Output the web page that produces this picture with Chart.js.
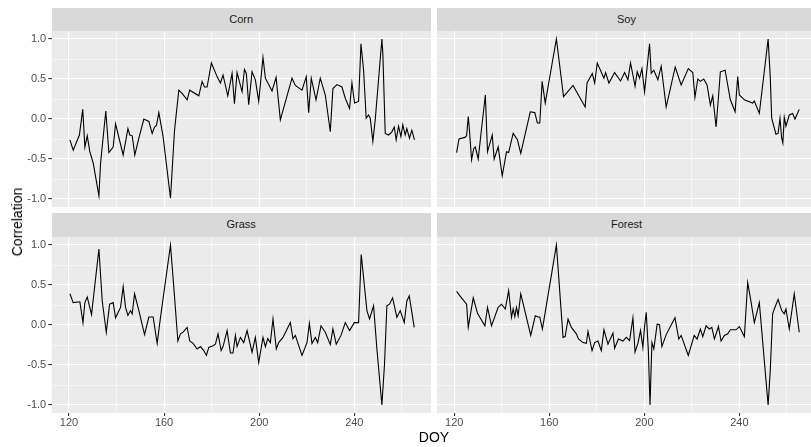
<!DOCTYPE html>
<html>
<head>
<meta charset="utf-8">
<script src="https://cdn.jsdelivr.net/npm/chart.js@4"></script>
<style>
  body { margin: 0; width: 811px; height: 447px; overflow: hidden; background: #fff; position: relative;
         font-family: "Liberation Sans", Arial, sans-serif; }
  canvas { position: absolute; }
  .strip { position: absolute; background: #d9d9d9; color: #1a1a1a; font-size: 11px; text-align: center; }
  .title { position: absolute; color: #000; font-size: 14px; white-space: nowrap; }
</style>
</head>
<body>
<div id="root"></div>
<script>
// axis breaks
const xMajor = [120, 160, 200, 240];
const xMinor = [140, 180, 220, 260];
const yMajor = [-1, -0.5, 0, 0.5, 1];
const yMinor = [-0.75, -0.25, 0.25, 0.75];
const panelNames = ["Corn", "Soy", "Grass", "Forest"];

// series
const cornDoy = [120.4,121.8,124.4,125.8,126.7,127.7,128.8,130.2,132.6,133.3,135.5,136.8,138.6,139.6,142.8,144.8,145.6,146.6,147.7,149.4,151.5,153.6,155.0,156.0,156.8,157.8,159.6,162.7,164.4,166.2,167.6,169.7,170.8,174.6,176.0,177.0,178.1,179.9,182.3,183.7,184.8,186.8,188.6,189.6,190.7,192.8,193.8,194.6,195.6,197.0,198.4,199.8,201.6,202.6,205.4,207.1,208.9,213.8,215.2,218.0,219.8,220.8,221.9,223.9,225.7,227.8,229.9,231.0,232.7,234.8,236.2,238.0,239.0,240.1,241.8,242.8,243.9,245.0,246.0,246.7,247.8,248.8,251.6,252.0,253.0,254.4,255.8,256.8,257.6,258.6,259.6,260.4,261.4,262.1,263.2,264.2,265.3];
const cornCor = [-0.26,-0.39,-0.20,0.12,-0.35,-0.21,-0.41,-0.55,-0.96,-0.55,0.10,-0.42,-0.35,-0.06,-0.45,-0.12,-0.20,-0.21,-0.45,-0.24,0.00,-0.03,-0.18,-0.10,-0.08,0.08,-0.22,-0.99,-0.14,0.36,0.32,0.24,0.36,0.29,0.47,0.40,0.40,0.70,0.53,0.45,0.55,0.29,0.57,0.19,0.58,0.34,0.62,0.57,0.18,0.59,0.49,0.22,0.77,0.51,0.35,0.52,-0.01,0.51,0.42,0.36,0.53,0.08,0.51,0.24,0.51,0.30,-0.16,0.38,0.43,0.40,0.26,0.13,0.45,0.20,0.22,0.94,0.61,0.01,0.05,0.01,-0.28,-0.01,1.00,0.82,-0.18,-0.20,-0.16,-0.10,-0.26,-0.09,-0.22,-0.07,-0.20,-0.12,-0.24,-0.14,-0.26];

const soyDoy = [121.0,122.0,124.5,125.2,125.9,126.3,127.3,128.2,128.9,130.1,131.2,133.1,134.0,136.0,136.8,138.5,140.2,142.0,142.9,144.8,146.6,148.0,152.0,153.9,155.0,156.0,157.0,158.3,163.0,166.0,170.0,175.1,175.9,178.1,179.1,180.2,183.0,183.7,185.1,187.5,190.0,191.7,193.1,194.2,195.2,196.1,197.0,198.0,199.0,200.1,202.2,202.9,204.0,205.7,207.1,209.2,213.0,215.5,218.5,220.4,221.3,222.5,223.6,225.0,226.4,227.8,228.8,230.2,230.9,232.0,234.0,236.2,238.2,239.3,240.0,242.1,245.6,246.3,248.4,252.1,253.0,253.6,255.4,256.3,257.1,257.8,258.3,258.9,259.6,261.0,262.4,263.4,265.2];
const soyCor = [-0.42,-0.25,-0.23,-0.21,0.03,-0.10,-0.51,-0.37,-0.35,-0.50,-0.20,0.30,-0.41,-0.20,-0.50,-0.35,-0.71,-0.41,-0.42,-0.18,-0.26,-0.43,0.09,0.08,-0.05,-0.05,0.47,0.20,1.00,0.28,0.42,0.15,0.45,0.57,0.45,0.70,0.51,0.58,0.45,0.58,0.475,0.58,0.49,0.70,0.55,0.41,0.59,0.51,0.63,0.34,0.94,0.57,0.61,0.49,0.66,0.15,0.65,0.425,0.63,0.58,0.27,0.50,0.47,0.50,0.425,0.175,0.29,-0.10,0.16,0.59,0.61,0.24,0.09,0.53,0.30,0.24,0.20,0.225,0.07,1.00,0.53,0.01,-0.19,-0.18,0.01,-0.24,-0.30,0.02,-0.09,0.05,0.07,0.00,0.12];

const grassDoy = [120.4,121.8,124.6,125.9,126.7,127.7,129.5,132.6,134.0,135.7,137.1,138.6,139.6,141.7,142.8,143.8,144.8,145.9,146.6,147.6,149.4,151.8,153.6,155.4,157.1,158.5,162.7,164.1,165.8,166.9,168.0,169.7,170.8,172.2,173.9,175.3,176.7,177.8,178.8,180.6,181.6,182.7,184.0,184.8,186.5,187.9,189.0,190.0,190.7,192.1,193.5,194.9,197.0,198.4,199.8,201.6,202.6,203.6,204.7,205.8,207.2,208.2,210.0,213.1,214.2,215.2,218.0,220.1,221.1,222.2,223.6,224.6,226.0,227.8,229.9,231.0,232.4,234.4,236.2,238.0,240.0,241.8,242.9,243.6,245.3,246.4,248.1,249.5,251.6,252.7,253.7,254.8,256.1,257.9,259.3,261.0,262.1,263.1,265.2];
const grassCor = [0.39,0.28,0.29,0.03,0.28,0.35,0.13,0.95,0.30,-0.09,0.26,0.28,0.09,0.22,0.48,0.22,0.12,0.18,0.14,0.39,0.18,-0.12,0.10,0.10,-0.23,0.095,1.00,0.47,-0.20,-0.11,-0.09,-0.03,-0.20,-0.23,-0.30,-0.27,-0.32,-0.38,-0.28,-0.26,-0.24,-0.11,-0.32,-0.27,-0.07,-0.35,-0.35,-0.13,-0.27,-0.155,-0.22,-0.07,-0.34,-0.155,-0.47,-0.155,-0.27,-0.17,-0.22,0.075,-0.30,-0.22,-0.155,0.03,-0.17,-0.13,-0.38,-0.22,0.02,-0.23,-0.155,-0.22,-0.01,-0.09,-0.245,-0.05,-0.24,-0.13,0.03,-0.07,0.03,0.03,0.88,0.68,0.18,0.075,0.24,-0.30,-1.00,-0.49,0.24,0.26,0.34,0.095,0.18,0.03,0.30,0.365,-0.03];

const forestDoy = [121.0,122.4,125.2,125.9,128.0,129.8,131.2,132.9,134.0,135.7,138.5,139.9,141.5,142.9,144.1,144.8,145.5,146.2,146.9,148.0,149.7,152.2,154.1,155.3,156.0,157.1,158.3,163.0,165.8,166.7,167.9,169.3,171.4,172.3,174.2,175.6,176.3,178.0,179.1,180.5,181.9,183.0,184.7,186.8,187.5,189.1,191.0,192.4,193.8,195.2,196.1,197.3,198.4,199.4,200.1,200.8,201.7,202.4,203.2,204.0,205.4,206.4,207.4,209.2,212.9,214.5,215.5,218.5,221.0,222.2,223.6,224.6,226.0,227.4,228.4,229.5,231.2,232.3,233.7,235.1,236.2,238.6,240.0,242.1,243.5,244.6,246.3,248.4,252.1,253.0,254.0,254.7,256.3,257.8,258.9,259.6,261.0,263.1,265.2];
const forestCor = [0.42,0.365,0.26,-0.03,0.34,0.145,0.075,-0.01,0.22,-0.01,0.22,0.26,0.20,0.43,0.095,0.20,0.105,0.22,0.115,0.39,0.18,-0.13,0.115,0.10,0.10,-0.05,0.16,1.00,-0.155,-0.145,0.075,-0.03,-0.11,-0.175,-0.22,-0.23,-0.08,-0.32,-0.22,-0.20,-0.32,-0.06,-0.24,-0.10,-0.29,-0.175,-0.20,-0.155,-0.195,0.09,-0.34,-0.23,-0.07,-0.28,-0.02,0.16,-0.32,-1.00,-0.22,-0.30,0.01,0.005,-0.27,-0.12,0.09,-0.175,-0.13,-0.38,-0.13,-0.175,-0.05,-0.145,-0.01,-0.05,-0.03,-0.175,-0.02,-0.20,-0.13,-0.11,-0.06,-0.06,-0.02,-0.145,0.53,0.345,0.03,0.28,-1.00,-0.57,0.14,0.20,0.32,0.18,0.14,0.20,-0.05,0.39,-0.09];

const FONT = "'Liberation Sans', Arial, sans-serif";
const root = document.getElementById("root");

// facet layout (px)
const colLeft = [51.7, 437];
const panelW = 379;
const rowTop = [31, 236.7];
const panelH = 176;
const stripH = 23.4;
const yAxisW = 51.7;
const xAxisH = 34;

const panelBg = {
  id: "panelBg",
  beforeDraw(chart) {
    const a = chart.chartArea;
    const ctx = chart.ctx;
    ctx.save();
    ctx.fillStyle = "#ebebeb";
    ctx.fillRect(a.left, a.top, a.right - a.left, a.bottom - a.top);
    ctx.restore();
  }
};

function addText(cls, text, css) {
  const d = document.createElement("div");
  d.className = cls;
  d.textContent = text;
  Object.assign(d.style, css);
  root.appendChild(d);
  return d;
}

// no label overhang padding, so the plot area fills the canvas exactly
function noPad(s) {
  s.paddingTop = 0; s.paddingBottom = 0; s.paddingLeft = 0; s.paddingRight = 0;
}

function makePanel(idx, doy, cor) {
  const col = idx % 2, row = Math.floor(idx / 2);
  const showY = col === 0;
  const showX = row === 1;

  // strip
  addText("strip", panelNames[idx], {
    left: colLeft[col] + "px", top: (rowTop[row] - stripH) + "px",
    width: panelW + "px", height: stripH + "px", lineHeight: stripH + "px"
  });

  const cvLeft = showY ? 0 : Math.floor(colLeft[col]);
  const w = Math.round(colLeft[col] + panelW - cvLeft);
  const h = panelH + (showX ? xAxisH : 0);
  const cv = document.createElement("canvas");
  cv.width = w; cv.height = h;
  cv.style.left = cvLeft + "px";
  cv.style.top = rowTop[row] + "px";
  root.appendChild(cv);

  new Chart(cv.getContext("2d"), {
    type: "line",
    data: {
      datasets: [{
        data: doy.map((d, i) => ({ x: d, y: cor[i] })),
        borderColor: "#000",
        borderWidth: 1.1,
        pointRadius: 0,
        tension: 0,
        fill: false
      }]
    },
    options: {
      responsive: false,
      animation: false,
      devicePixelRatio: 1,
      layout: { padding: 0 },
      plugins: { legend: { display: false }, tooltip: { enabled: false } },
      scales: {
        x: {
          type: "linear", min: 112.75, max: 272.25,
          afterBuildTicks: s => { s.ticks = [...xMajor, ...xMinor].sort((a, b) => a - b).map(v => ({ value: v })); },
          afterFit: s => { s.height = showX ? xAxisH : 0; noPad(s); },
          border: { display: false },
          grid: {
            color: "#ffffff",
            lineWidth: c => xMajor.includes(c.tick.value) ? 1.1 : 0.55,
            drawTicks: showX,
            tickLength: 3,
            tickWidth: 1.1,
            tickColor: c => xMajor.includes(c.tick.value) ? "#333333" : "rgba(0,0,0,0)"
          },
          ticks: {
            display: showX, autoSkip: false, maxRotation: 0, padding: 0,
            color: "#4d4d4d", font: { family: FONT, size: 11 },
            callback: v => xMajor.includes(v) ? String(v) : ""
          }
        },
        y: {
          type: "linear", min: -1.1, max: 1.1,
          afterBuildTicks: s => { s.ticks = [...yMajor, ...yMinor].sort((a, b) => a - b).map(v => ({ value: v })); },
          afterFit: s => { s.width = showY ? yAxisW : 0; noPad(s); },
          border: { display: false },
          grid: {
            color: "#ffffff",
            lineWidth: c => yMajor.includes(c.tick.value) ? 1.1 : 0.55,
            drawTicks: showY,
            tickLength: 3.5,
            tickWidth: 1.1,
            tickColor: c => yMajor.includes(c.tick.value) ? "#333333" : "rgba(0,0,0,0)"
          },
          ticks: {
            display: showY, autoSkip: false, padding: 2,
            color: "#4d4d4d", font: { family: FONT, size: 11 },
            callback: v => yMajor.includes(v) ? v.toFixed(1) : ""
          }
        }
      }
    },
    plugins: [panelBg]
  });
}

makePanel(0, cornDoy, cornCor);
makePanel(1, soyDoy, soyCor);
makePanel(2, grassDoy, grassCor);
makePanel(3, forestDoy, forestCor);

// axis titles
addText("title", "DOY", { left: "434px", top: "437px", transform: "translate(-50%, -50%)" });
addText("title", "Correlation", { left: "17px", top: "222px", transform: "translate(-50%, -50%) rotate(-90deg)" });
</script>
</body>
</html>
